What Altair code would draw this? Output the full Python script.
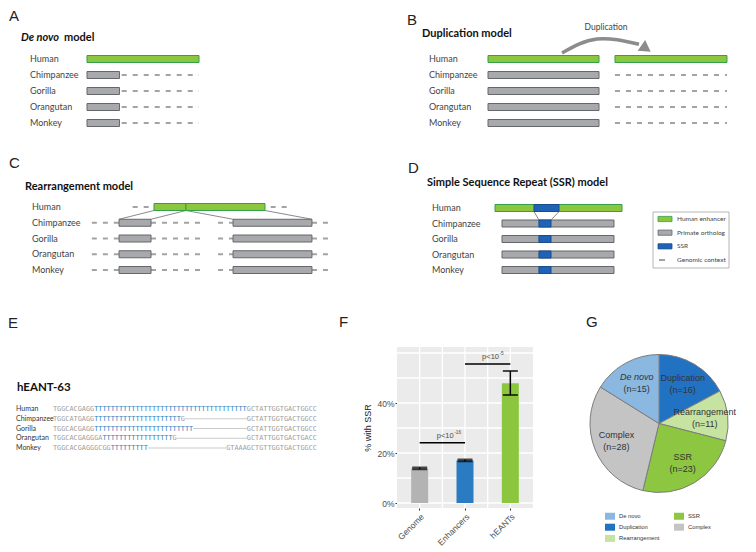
import altair as alt
import pandas as pd

# ---------------- data ----------------
SPECIES = ["Human", "Chimpanzee", "Gorilla", "Orangutan", "Monkey"]
PRIMATES = SPECIES[1:]

# schematic positions in enhancer units (human enhancer = 0..100)
A_SEGMENTS = [("Human", 0, 100, "enh")] + [(s, 0, 29, "orth") for s in PRIMATES]
A_CONTEXT = [(s, 31, 100) for s in PRIMATES]

B_SEGMENTS = [("Human", 0, 100, "enh"), ("Human", 114.4, 215.3, "enh")] + [(s, 0, 100, "orth") for s in PRIMATES]
B_CONTEXT = [(s, 114.4, 215.3) for s in PRIMATES]
B_ARROW = [(66.7, -0.375), (98.2, -1.25), (136.0, -0.92)]
B_ARROW_TIP = [(141.0, -0.72)]

C_SEGMENTS = [("Human", 0, 28.8, "enh"), ("Human", 28.8, 100, "enh")] + [
    seg for s in PRIMATES for seg in [(s, -31.5, -2.7, "orth"), (s, 71.2, 142.3, "orth")]]
C_CONTEXT = [("Human", -19.2, -4.5), ("Human", 105.1, 120.1)] + [
    c for s in PRIMATES for c in [(s, -56, -31.5), (s, -2.7, 42.3), (s, 57.7, 71.2), (s, 142.3, 158.6)]]
C_LINKS = [(0, -31.5), (28.8, -2.7), (28.8, 71.2), (100, 142.3)]

D_SEGMENTS = [("Human", 0, 100, "enh"), ("Human", 30.7, 50.4, "ssr")] + [
    seg for s in PRIMATES for seg in [(s, 5.5, 93.7, "orth"), (s, 34.6, 44.1, "ssr")]]
D_LINKS = [(30.7, 34.6), (50.4, 44.1)]
D_LEGEND = ["Human enhancer", "Primate ortholog", "SSR", "Genomic context"]
D_LEGEND_KIND = ["enh", "orth", "ssr", "ctx"]

# panel E alignment (hEANT-63)
E_ALIGN = [
    "TGGCACGAGG" + "T" * 37 + "GCTATTGGTGACTGGCC",
    "TGGCATGAGG" + "T" * 21 + "G" + "-" * 15 + "GCTATTGGTGACTGGCC",
    "TGGCACGAGG" + "T" * 24 + "-" * 13 + "GCTATTGGTGACTGGCC",
    "TGGCACGAGGGA" + "T" * 17 + "G" + "-" * 17 + "GCTATTGGTGACTGACC",
    "TGGCACGAGGGCGG" + "T" * 9 + "-" * 19 + "GTAAAGCTGTTGGTGACTGGCC",
]
E_SSR = [(10, 37), (10, 21), (10, 24), (12, 17), (14, 9)]

# panel F
F_CATS = ["Genome", "Enhancers", "hEANTs"]
F_PCT = [13.8, 17.0, 47.9]
F_LOW = [13.5, 16.7, 43.2]
F_HIGH = [14.2, 17.4, 52.8]
F_COLORS = ["#b3b3b3", "#2a7bc1", "#8cc63f"]
F_SIG = [("Genome", "Enhancers", 24.1, "-16"), ("Enhancers", "hEANTs", 55.6, "-5")]
F_YGRID = [0, 10, 20, 30, 40, 50, 60]
F_YTICKS = [0, 20, 40]
F_XGRID = [0.5, 1.0, 1.5, 2.0, 2.5]

# panel G
G_NAMES = ["Duplication", "Rearrangement", "SSR", "Complex", "De novo"]
G_COUNTS = [16, 11, 23, 28, 15]
G_LEGEND_ORDER = ["De novo", "Duplication", "Rearrangement", "SSR", "Complex"]
G_COLORS = ["#8ab8e1", "#2272c3", "#c7e3a2", "#8dc640", "#c4c4c4"]

FILL = {"enh": "#8cc63f", "orth": "#a7a9ac", "ssr": "#1f63b6"}
EDGE = {"enh": "#33a04a", "orth": "#666769", "ssr": "#184c8f"}
CTX_COLOR = "#a3a3a3"
LABEL_FONT = "Lato"
SANS = "Liberation Sans"


def txt(s, x, y, size, font=LABEL_FONT, weight="normal", style="normal",
        color="#222", align="left", baseline="middle"):
    return alt.Chart(pd.DataFrame({"t": [s]})).mark_text(
        align=align, baseline=baseline, font=font, fontSize=size,
        fontWeight=weight, fontStyle=style, color=color
    ).encode(x=alt.value(x), y=alt.value(y), text="t:N")


def diagram(xrange, yrange, segments, context, label_x, links=None, bar_px=7):
    row_of = {s: i for i, s in enumerate(SPECIES)}
    step = (yrange[1] - yrange[0]) / 4
    half = bar_px / 2 / step
    xs = alt.Scale(domain=[0, 100], range=xrange)
    ys = alt.Scale(domain=[0, 4], range=yrange)
    seg = pd.DataFrame(segments, columns=["sp", "x0", "x1", "kind"])
    seg["row"] = seg["sp"].map(row_of)
    seg["y0"] = seg["row"] - half
    seg["y1"] = seg["row"] + half
    seg["fill"] = seg["kind"].map(FILL)
    seg["edge"] = seg["kind"].map(EDGE)
    layers = []
    if links:
        lk = pd.DataFrame(links, columns=["xa", "xb"])
        lk["ya"] = half
        lk["yb"] = 1 - half
        layers.append(alt.Chart(lk).mark_rule(color="#8a8a8a", strokeWidth=1).encode(
            x=alt.X("xa:Q", scale=xs, axis=None), x2="xb:Q",
            y=alt.Y("ya:Q", scale=ys, axis=None), y2="yb:Q"))
    if context:
        ctx = pd.DataFrame(context, columns=["sp", "x0", "x1"])
        ctx["row"] = ctx["sp"].map(row_of)
        layers.append(alt.Chart(ctx).mark_rule(strokeDash=[5, 6], strokeWidth=2.2, color=CTX_COLOR).encode(
            x=alt.X("x0:Q", scale=xs, axis=None), x2="x1:Q",
            y=alt.Y("row:Q", scale=ys, axis=None)))
    layers.append(alt.Chart(seg).mark_rect(strokeWidth=1).encode(
        x=alt.X("x0:Q", scale=xs, axis=None), x2="x1:Q",
        y=alt.Y("y0:Q", scale=ys, axis=None), y2="y1:Q",
        fill=alt.Fill("fill:N", scale=None), stroke=alt.Stroke("edge:N", scale=None)))
    layers.append(alt.Chart(pd.DataFrame({"sp": SPECIES, "row": list(range(5))})).mark_text(
        align="left", baseline="middle", font=LABEL_FONT, fontSize=9, color="#444"
    ).encode(x=alt.value(label_x), y=alt.Y("row:Q", scale=ys, axis=None), text="sp:N"))
    return layers, xs, ys


TITLE = 11

# ---------------- panel A ----------------
la, _, _ = diagram([79, 191], [51, 115], A_SEGMENTS, A_CONTEXT, 22)
panelA = alt.layer(
    *la,
    txt("A", 1, 13, 15, font=SANS, baseline="alphabetic"),
    txt("De novo", 13, 30, TITLE, weight="bold", style="italic", color="#111"),
    txt("model", 56, 30, TITLE, weight="bold", color="#111"),
)

# ---------------- panel B ----------------
lb, bxs, bys = diagram([480, 591], [51, 115], B_SEGMENTS, B_CONTEXT, 421)
arrow_df = pd.DataFrame(B_ARROW, columns=["x", "y"])
arrow_df["o"] = list(range(len(arrow_df)))
arrow = alt.Chart(arrow_df).mark_line(interpolate="natural", color="#8c8c8c", strokeWidth=3.5).encode(
    x=alt.X("x:Q", scale=bxs, axis=None), y=alt.Y("y:Q", scale=bys, axis=None), order="o:O")
tip = alt.Chart(pd.DataFrame(B_ARROW_TIP, columns=["x", "y"])).mark_point(
    shape="triangle", filled=True, color="#8c8c8c", size=170, angle=125, opacity=1).encode(
    x=alt.X("x:Q", scale=bxs, axis=None), y=alt.Y("y:Q", scale=bys, axis=None))
panelB = alt.layer(
    *lb, arrow, tip,
    txt("B", 399, 17, 15, font=SANS, baseline="alphabetic"),
    txt("Duplication model", 414, 26, TITLE, weight="bold", color="#111"),
    txt("Duplication", 598, 19, 8.5, color="#444", align="center"),
)

# ---------------- panel C ----------------
lc, _, _ = diagram([146, 257], [199, 262], C_SEGMENTS, C_CONTEXT, 24, links=C_LINKS)
panelC = alt.layer(
    *lc,
    txt("C", 1, 160, 15, font=SANS, baseline="alphabetic"),
    txt("Rearrangement model", 17, 179, TITLE, weight="bold", color="#111"),
)

# ---------------- panel D ----------------
ld, dxs, dys = diagram([487, 614], [200, 262], D_SEGMENTS, [], 424, links=D_LINKS)
leg = pd.DataFrame({"name": D_LEGEND, "li": list(range(4)), "kind": D_LEGEND_KIND})
leg["y0"] = leg["li"] - 0.19
leg["y1"] = leg["li"] + 0.19
leg["fill"] = leg["kind"].map(FILL)
leg["edge"] = leg["kind"].map(EDGE)
lys = alt.Scale(domain=[0, 3], range=[211, 252])
box = alt.Chart(pd.DataFrame({"v": [0]})).mark_rect(fill="white", stroke="#b5b5b5", strokeWidth=1).encode(
    x=alt.value(645), x2=alt.value(721), y=alt.value(204), y2=alt.value(260))
sw = alt.Chart(leg[leg["kind"] != "ctx"]).mark_rect(strokeWidth=0.8).encode(
    x=alt.value(650), x2=alt.value(664),
    y=alt.Y("y0:Q", scale=lys, axis=None), y2="y1:Q",
    fill=alt.Fill("fill:N", scale=None), stroke=alt.Stroke("edge:N", scale=None))
swc = alt.Chart(leg[leg["kind"] == "ctx"]).mark_rule(strokeWidth=2, color=CTX_COLOR).encode(
    x=alt.value(651), x2=alt.value(657), y=alt.Y("li:Q", scale=lys, axis=None))
legt = alt.Chart(leg).mark_text(align="left", baseline="middle", font=LABEL_FONT, fontSize=6.5, color="#444").encode(
    x=alt.value(669), y=alt.Y("li:Q", scale=lys, axis=None), text="name:N")
panelD = alt.layer(
    *ld, box, sw, swc, legt,
    txt("D", 400, 165, 15, font=SANS, baseline="alphabetic"),
    txt("Simple Sequence Repeat (SSR) model", 419, 175, TITLE, weight="bold", color="#111"),
).resolve_scale(y="independent")

# ---------------- panel E ----------------
FS = 6.85
CW = 0.6021 * FS
NCOL = 64
cols = alt.Scale(domain=[0, NCOL], range=[45, 45 + NCOL * CW])
eys = alt.Scale(domain=[0, 4], range=[401, 440])
flank_rows, ssr_rows, gap_rows = [], [], []
for r, (seq, (s0, sl)) in enumerate(zip(E_ALIGN, E_SSR)):
    cls = ["ssr" if s0 <= i < s0 + sl else ("gap" if ch == "-" else "flank") for i, ch in enumerate(seq)]
    i = 0
    while i < len(seq):
        j = i
        while j < len(seq) and cls[j] == cls[i]:
            j += 1
        if cls[i] == "gap":
            gap_rows.append({"row": r, "c0": i, "c1": j})
        elif cls[i] == "ssr":
            ssr_rows.append({"row": r, "col": i, "s": seq[i:j]})
        else:
            flank_rows.append({"row": r, "col": i, "s": seq[i:j]})
        i = j


def seqlayer(rows, color):
    return alt.Chart(pd.DataFrame(rows)).mark_text(
        align="left", baseline="middle", font="DejaVu Sans Mono", fontSize=FS, color=color).encode(
        x=alt.X("col:Q", scale=cols, axis=None), y=alt.Y("row:Q", scale=eys, axis=None), text="s:N")


gaps = alt.Chart(pd.DataFrame(gap_rows)).mark_rule(color="#b5b5b5", strokeWidth=0.7).encode(
    x=alt.X("c0:Q", scale=cols, axis=None), x2="c1:Q", y=alt.Y("row:Q", scale=eys, axis=None))
elab = alt.Chart(pd.DataFrame({"sp": SPECIES, "row": list(range(5))})).mark_text(
    align="left", baseline="middle", font=LABEL_FONT, fontSize=7, color="#333").encode(
    x=alt.value(8), y=alt.Y("row:Q", scale=eys, axis=None), text="sp:N")
panelE = alt.layer(
    gaps, seqlayer(flank_rows, "#9d9d9d"), seqlayer(ssr_rows, "#2f7fc1"), elab,
    txt("E", 0, 320, 15, font=SANS, baseline="alphabetic"),
    txt("hEANT-63", 9, 380, 11.5, weight="bold", color="#111"),
)

# ---------------- panel F ----------------
F_XR = [389, 525]
F_YR = [500, 339]
F_DOM = [-2, 62.4]
ysc = alt.Scale(domain=F_DOM, range=F_YR, nice=False, zero=False)

# background + grid (category-index scale sharing the band range)
gx = alt.Scale(domain=[0, 3], range=F_XR)
bg = alt.Chart(pd.DataFrame({"v": [0]})).mark_rect(color="#ebebeb").encode(
    x=alt.X(datum=0, scale=gx, axis=None), x2=alt.datum(3),
    y=alt.Y(datum=F_DOM[0], scale=ysc, axis=None), y2=alt.datum(F_DOM[1]))
hgrid = alt.Chart(pd.DataFrame({"g": F_YGRID})).mark_rule(color="white", strokeWidth=1.3).encode(
    x=alt.X(datum=0, scale=gx, axis=None), x2=alt.datum(3), y=alt.Y("g:Q", scale=ysc, axis=None))
vgrid = alt.Chart(pd.DataFrame({"g": F_XGRID})).mark_rule(color="white", strokeWidth=1.3).encode(
    x=alt.X("g:Q", scale=gx, axis=None),
    y=alt.Y(datum=F_DOM[0], scale=ysc, axis=None), y2=alt.datum(F_DOM[1]))
panelFbg = alt.layer(bg, hgrid, vgrid)

f_df = pd.DataFrame({"cat": F_CATS, "pct": F_PCT, "lo": F_LOW, "hi": F_HIGH, "col": F_COLORS})
xsc = alt.Scale(domain=F_CATS, range=F_XR, paddingInner=0, paddingOuter=0)
x_axis = alt.Axis(title=None, labelAngle=-45, grid=False, domain=False, tickSize=2, tickColor="#333",
                  labelFont=SANS, labelFontSize=8.5, labelColor="#4d4d4d", labelPadding=2,
                  offset=-36)
y_axis = alt.Axis(title="% with SSR", values=F_YTICKS, labelExpr="datum.value + '%'",
                  grid=False, domain=False, tickSize=2, offset=-389,
                  tickColor="#333", labelFont=SANS, labelFontSize=8.5, labelColor="#4d4d4d",
                  labelPadding=1, titleFont=SANS, titleFontSize=9, titleFontWeight="normal",
                  titleColor="#222", titlePadding=4)
FX = lambda f: alt.X(f, scale=xsc, axis=x_axis)
FY = lambda f: alt.Y(f, scale=ysc, axis=y_axis)
bars = alt.Chart(f_df).mark_bar(size=17).encode(
    x=FX("cat:N"), y=FY("pct:Q"), y2=alt.datum(0), fill=alt.Fill("col:N", scale=None))
err = alt.Chart(f_df).mark_rule(strokeWidth=1.5, color="black").encode(
    x=FX("cat:N"), y=FY("lo:Q"), y2="hi:Q")
cap_lo = alt.Chart(f_df).mark_tick(size=15, thickness=2, color="black").encode(x=FX("cat:N"), y=FY("lo:Q"))
cap_hi = alt.Chart(f_df).mark_tick(size=15, thickness=2, color="black").encode(x=FX("cat:N"), y=FY("hi:Q"))
sig_df = pd.DataFrame(F_SIG, columns=["a", "b", "lev", "exp"])
sig = alt.Chart(sig_df).mark_rule(strokeWidth=1.6, color="black").encode(
    x=FX("a:N"), x2="b:N", y=FY("lev:Q"))
ptxt = alt.Chart(sig_df).mark_text(text="p<10", align="right", baseline="middle", dx=34, dy=-7,
                                   font=SANS, fontSize=7.5, color="#4d4d4d").encode(
    x=FX("a:N"), y=FY("lev:Q"))
pexp = alt.Chart(sig_df).mark_text(align="left", baseline="middle", dx=34.5, dy=-10,
                                   font=SANS, fontSize=4.8, color="#4d4d4d").encode(
    x=FX("a:N"), y=FY("lev:Q"), text="exp:N")
panelF = alt.layer(
    bars, err, cap_lo, cap_hi, sig, ptxt, pexp,
    txt("F", 331, 319, 15, font=SANS, baseline="alphabetic"),
)

# ---------------- panel G ----------------
g_df = pd.DataFrame({"name": G_NAMES, "n": G_COUNTS, "ord": list(range(len(G_NAMES)))})
g_df["nlab"] = "(n=" + g_df["n"].astype(str) + ")"
g_df["mid"] = g_df["n"].cumsum() - g_df["n"] / 2
TOTAL = int(g_df["n"].sum())
theta_scale = alt.Scale(domain=[0, TOTAL])
pie = alt.Chart(g_df).mark_arc(outerRadius=69, stroke="#7d7d7d", strokeWidth=1).encode(
    theta=alt.Theta("n:Q", stack=True, scale=theta_scale), order=alt.Order("ord:Q"),
    x=alt.value(651), y=alt.value(415.5),
    color=alt.Color("name:N", scale=alt.Scale(domain=G_LEGEND_ORDER, range=G_COLORS),
                    legend=alt.Legend(orient="none", legendX=597, legendY=503, columns=2, title=None,
                                      symbolType="M-1,-0.7H1V0.7H-1Z", symbolSize=100,
                                      symbolStrokeWidth=0, labelFont=SANS, labelFontSize=5.8,
                                      labelColor="#333", rowPadding=2.2, columnPadding=14,
                                      padding=0, labelOffset=4)))
tbase = alt.Chart(g_df).encode(
    theta=alt.Theta("mid:Q", stack=None, scale=theta_scale),
    x=alt.value(651), y=alt.value(415.5))
lab1 = tbase.mark_text(radius=46, dy=-6, font=SANS, fontSize=9, color="#333",
                       fontStyle={"expr": "datum.name == 'De novo' ? 'italic' : 'normal'"}).encode(text="name:N")
lab2 = tbase.mark_text(radius=46, dy=6, font=SANS, fontSize=9, color="#333").encode(text="nlab:N")
panelG = alt.layer(
    pie, lab1, lab2,
    txt("G", 578, 319, 15, font=SANS, baseline="alphabetic"),
)

chart = alt.layer(
    panelA, panelB, panelC, panelD, panelE, panelFbg, panelF, panelG,
).resolve_scale(x="independent", y="independent").properties(
    width=740, height=536, padding=0
).configure_view(stroke=None)

chart.save("out.html", embed_options={"renderer": "svg", "actions": False})
